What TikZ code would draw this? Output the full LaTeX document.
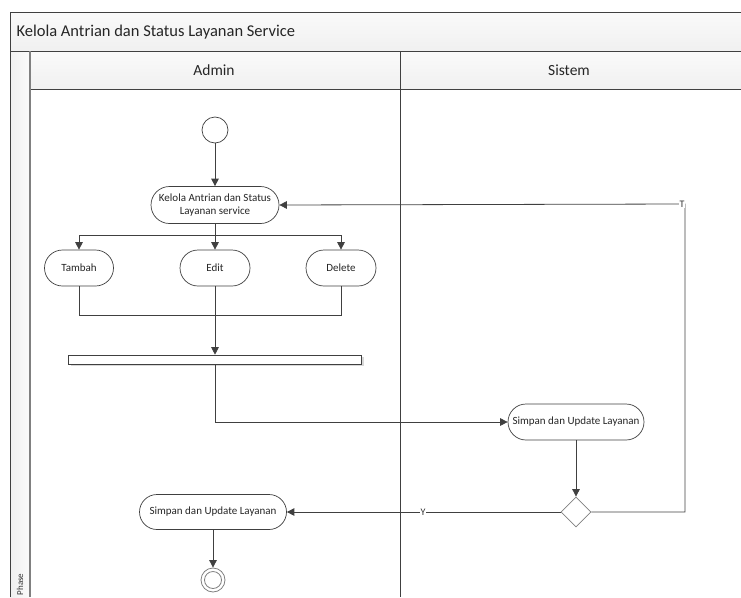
\documentclass[tikz,border=0pt]{standalone}
\usepackage{fontspec}
\setmainfont{Carlito}
\usetikzlibrary{arrows.meta,shapes.geometric,shapes.misc,shadows}
\definecolor{ln}{HTML}{404040}
\definecolor{hdr}{HTML}{F0F0F0}
\definecolor{hdrtop}{HTML}{FAFAFA}
\tikzset{
  flow/.style={draw=ln,line width=0.8pt,-{Triangle[length=7.5pt,width=7.5pt]}},
  wire/.style={draw=ln,line width=0.8pt},
  act/.style={draw=ln,line width=0.7pt,rounded rectangle,fill=white,font=\fontsize{11}{12.5}\selectfont,text=black!85,align=center,inner sep=2pt},
  frame/.style={draw=ln,line width=0.8pt},
  glabel/.style={fill=white,inner sep=0.6pt,font=\fontsize{10}{11}\selectfont,text=black!80}
}
\begin{document}
\begin{tikzpicture}[x=1pt,y=-1pt]
\useasboundingbox (0,0) rectangle (741,597);
% swimlane frame
\fill[top color=hdrtop,bottom color=hdr] (10,12) rectangle (741,51);
\fill[top color=hdrtop,bottom color=hdr] (30,51) rectangle (741,89);
\fill[left color=hdr,right color=hdrtop] (10,51) rectangle (30,597);
\draw[frame] (741,12) -- (10,12) -- (10,597);
\draw[frame] (10,51) -- (741,51);
\draw[frame] (30,89) -- (741,89);
\draw[draw=gray,line width=1.6pt] (30,51) -- (30,597);
\draw[frame] (400,51) -- (400,597);
\node[anchor=west,font=\fontsize{16.5}{18}\selectfont,text=black!85] (title) at (13,32) {Kelola Antrian dan Status Layanan Service};
\node[font=\fontsize{15.5}{17}\selectfont,text=black!85] (admin) at (214,70) {Admin};
\node[font=\fontsize{15.5}{17}\selectfont,text=black!85] (sistem) at (569,70) {Sistem};
\node[rotate=90,anchor=west,inner sep=0.5pt,font=\fontsize{9}{10}\selectfont,text=black!80] (phase) at (20,596) {Phase};

% nodes
\node[circle,draw=ln,line width=0.7pt,minimum size=26pt,inner sep=0pt] (start) at (215,130) {};
\node[act,minimum width=132pt,minimum height=37pt] (kelola) at (215,205) {Kelola Antrian dan Status\\Layanan service};
\node[act,minimum width=73pt,minimum height=36pt] (tambah) at (79,268) {Tambah};
\node[act,minimum width=74pt,minimum height=36pt] (edit) at (215,268) {Edit};
\node[act,minimum width=74pt,minimum height=36pt] (delete) at (341,268) {Delete};
\node[draw=ln,line width=0.6pt,fill=white,minimum width=293pt,minimum height=9pt,inner sep=0pt,
  drop shadow={shadow xshift=2pt,shadow yshift=-2pt,fill=gray!60}] (bar) at (215,359.5) {};
\node[act,minimum width=140pt,minimum height=36pt] (simpan) at (576,422) {Simpan dan Update Layanan};
\node[diamond,draw=gray,line width=0.8pt,fill=white,minimum width=30pt,minimum height=30pt,inner sep=0pt] (dec) at (576,512) {};
\node[act,minimum width=151pt,minimum height=35pt] (simpan2) at (213,512) {Simpan dan Update Layanan};
\node[circle,draw=gray,line width=0.8pt,minimum size=24pt,inner sep=0pt] (end) at (213,580) {};
\node[circle,draw=gray,line width=0.8pt,minimum size=17pt,inner sep=0pt] (endin) at (213,580) {};

% connectors
\draw[flow] (start) -- (kelola);
\coordinate (br) at (215,235);
\draw[wire] (kelola.south) -- (br);
\draw[flow] (br) -| (tambah.north);
\draw[flow] (br) -- (edit.north);
\draw[flow] (br) -| (delete.north);
\coordinate (mg) at (215,315);
\draw[wire] (tambah.south) |- (mg);
\draw[wire] (delete.south) |- (mg);
\draw[flow] (edit.south) -- (bar.north);
\draw[flow] (bar.south) |- (simpan.west);
\draw[flow] (simpan.south) -- (dec.north);
\coordinate (tc) at (685,204);
\draw[flow] (dec.east) -| (tc) -- (kelola.east);
\node[glabel] (tlab) at (682,204) {T};
\draw[flow] (dec.west) -- (simpan2.east);
\node[glabel] (ylab) at (423,512) {Y};
\draw[flow] (simpan2.south) -- (end.north);
\end{tikzpicture}
\end{document}
